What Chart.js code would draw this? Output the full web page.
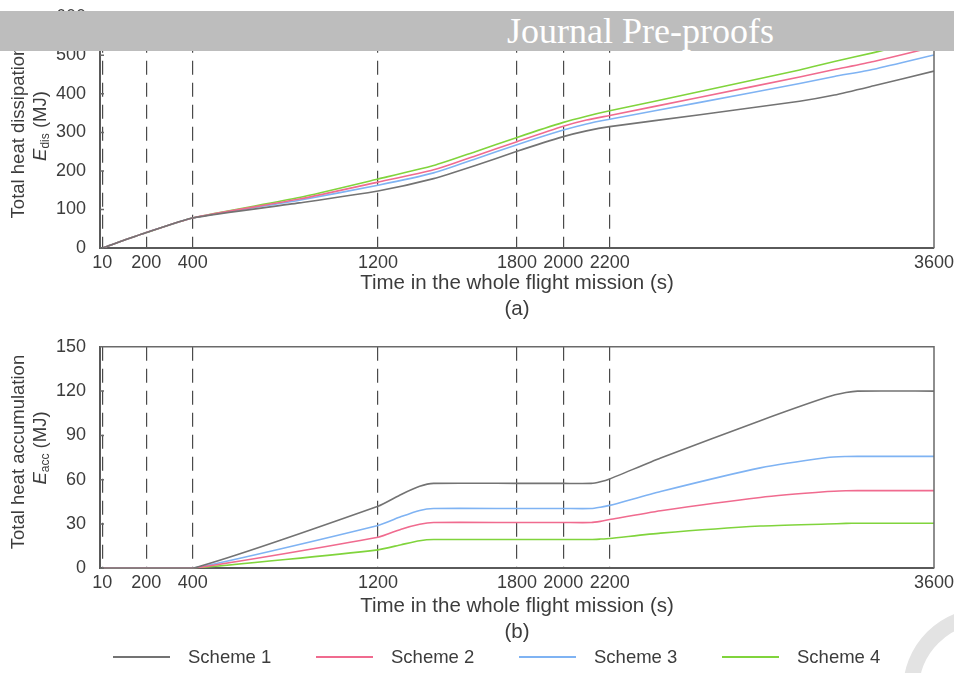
<!DOCTYPE html>
<html>
<head>
<meta charset="utf-8">
<script src="https://cdn.jsdelivr.net/npm/chart.js"></script>
<style>
  body { margin: 0; width: 954px; height: 673px; overflow: hidden; position: relative; background: #fff;
         font-family: 'Liberation Sans', Arial, sans-serif; color: #3c3c3c; }
  canvas { position: absolute; left: 0; }
  .ytitle { position: absolute; transform: translate(-50%, -50%) rotate(-90deg); white-space: nowrap; font-size: 18.5px; }
  .ytitle sub { font-size: 12px; vertical-align: -3px; }
  #banner { position: absolute; left: 0; top: 11px; width: 954px; height: 40px; background: #bdbdbd; z-index: 5; }
  #banner span { position: absolute; left: 507px; top: 0; line-height: 40px; font-family: 'Liberation Serif', 'DejaVu Serif', serif;
                 font-size: 36px; color: #fff; }
  .leg { position: absolute; top: 647px; height: 20px; font-size: 18.5px; line-height: 20px; white-space: nowrap; }
  .leg i { position: absolute; left: 0; top: 9px; width: 57px; height: 2px; }
  .leg span { position: absolute; left: 75px; top: 0; }
  #ring { position: absolute; left: 903px; top: 608px; width: 164px; height: 164px; box-sizing: border-box;
          border: 16px solid #e3e3e3; border-radius: 50%; }
</style>
</head>
<body>
<canvas id="dis" width="954" height="330" style="top:0"></canvas>
<canvas id="acc" width="954" height="320" style="top:330px"></canvas>

<div class="ytitle" style="left:18px; top:132px">Total heat dissipation</div>
<div class="ytitle" style="left:40px; top:126px"><i>E</i><sub>dis</sub> (MJ)</div>
<div class="ytitle" style="left:18px; top:452px">Total heat accumulation</div>
<div class="ytitle" style="left:40px; top:448px"><i>E</i><sub>acc</sub> (MJ)</div>

<div id="banner"><span>Journal Pre-proofs</span></div>
<div id="legend"></div>
<div id="ring"></div>

<script>
// ---- data ----
const schemeNames = ['Scheme 1', 'Scheme 2', 'Scheme 3', 'Scheme 4'];
const schemeColors = ['#737373', '#f06b8f', '#7fb3f3', '#80d43c'];
const xTicks = [10, 200, 400, 1200, 1800, 2000, 2200, 3600];

// (a) total heat dissipation, MJ
const disTime = [10, 200, 400, 860, 1200, 1440, 1620, 1800, 2000, 2100, 2200, 2590, 3020, 3170, 3340, 3600];
const disScheme1 = [0, 40, 78, 117, 148, 180, 214, 251, 289, 304, 315, 346, 381, 397, 421, 459];
const disScheme2 = [0, 40, 78, 127, 171, 203, 239, 276, 316, 332, 344, 391, 444, 463, 484, 522];
const disScheme3 = [0, 40, 78, 124, 163, 195, 231, 268, 306, 322, 334, 378, 427, 445, 464, 501];
const disScheme4 = [0, 40, 78, 131, 179, 214, 250, 287, 326, 342, 356, 406, 462, 484, 507, 545];

// (b) total heat accumulation, MJ
const accTime = [10, 200, 400, 1200, 1300, 1380, 1440, 1800, 2000, 2120, 2160, 2200, 2420, 2850, 3140, 3220, 3270, 3600];
const accScheme1 = [0, 0, 0, 42, 50, 55.5, 57.5, 57.5, 57.5, 57.5, 58.6, 60.5, 74.7, 100, 116, 119, 120, 120];
const accScheme2 = [0, 0, 0, 21, 26.5, 29.8, 31, 31, 31, 31, 31.8, 33, 39, 48, 52, 52.5, 52.6, 52.6];
const accScheme3 = [0, 0, 0, 29, 35, 39.2, 40.5, 40.5, 40.5, 40.5, 41.4, 42.6, 52, 68, 75, 75.7, 75.8, 75.8];
const accScheme4 = [0, 0, 0, 12.5, 16, 18.7, 19.5, 19.5, 19.5, 19.5, 19.8, 20.2, 23.8, 28.6, 30, 30.4, 30.5, 30.5];

Chart.defaults.font.family = "'Liberation Sans', Arial, sans-serif";
Chart.defaults.color = '#3c3c3c';

// box edges (top/right) and the little inward y ticks
const framePlugin = {
  id: 'frame',
  afterDatasetsDraw(chart) {
    const { ctx, chartArea: a, scales: { y } } = chart;
    ctx.save();
    ctx.strokeStyle = '#6a6a6a';
    ctx.lineWidth = 1.5;
    ctx.beginPath();
    ctx.moveTo(a.left, a.top);
    ctx.lineTo(a.right, a.top);
    ctx.lineTo(a.right, a.bottom);
    y.ticks.forEach((t) => {
      const py = y.getPixelForValue(t.value);
      ctx.moveTo(a.left, py);
      ctx.lineTo(a.left + 4, py);
    });
    ctx.stroke();
    ctx.restore();
  }
};

function series(times, values) {
  return times.map((t, i) => ({ x: t, y: values[i] }));
}

function makeChart(id, times, seriesList, yMax, yStep, tag, padTop, axisHeight, titleBottom) {
  return new Chart(document.getElementById(id), {
    type: 'line',
    data: {
      datasets: seriesList.map((vals, i) => ({
        label: schemeNames[i],
        data: series(times, vals),
        borderColor: schemeColors[i],
        borderWidth: 1.6,
        pointRadius: 0,
        tension: 0.2,
        borderJoinStyle: 'round',
        fill: false
      }))
    },
    options: {
      responsive: false,
      animation: false,
      devicePixelRatio: 1,
      layout: { padding: { top: padTop, right: 20, left: 0, bottom: 0 } },
      plugins: { legend: { display: false }, tooltip: { enabled: false } },
      scales: {
        x: {
          type: 'linear',
          min: 0,
          max: 3600,
          afterBuildTicks: (s) => { s.ticks = xTicks.map((v) => ({ value: v })); },
          afterFit: (s) => { s.height = axisHeight; s.paddingLeft = 0; s.paddingRight = 0; },
          ticks: { font: { size: 18 }, padding: 4, maxRotation: 0, autoSkip: false, callback: (v) => String(v) },
          grid: {
            drawTicks: false,
            lineWidth: 1.2,
            color: (c) => (c.tick && c.tick.value === 3600 ? 'rgba(0,0,0,0)' : '#4a4a4a')
          },
          border: { color: '#5a5a5a', width: 2, dash: [14, 8] },
          title: {
            display: true,
            text: ['Time in the whole flight mission (s)', tag],
            font: { size: 20.5, lineHeight: 1.27 },
            padding: { top: 2, bottom: titleBottom }
          }
        },
        y: {
          min: 0,
          max: yMax,
          afterFit: (s) => { s.width = 100; },
          ticks: { stepSize: yStep, font: { size: 18 }, padding: 6 },
          grid: { display: false },
          border: { color: '#5a5a5a', width: 2 }
        }
      }
    },
    plugins: [framePlugin]
  });
}

makeChart('dis', disTime, [disScheme1, disScheme2, disScheme3, disScheme4], 600, 100, '(a)', 16, 82, 8);
makeChart('acc', accTime, [accScheme1, accScheme2, accScheme3, accScheme4], 150, 30, '(b)', 7.3, 81.7, 5);

// legend
const legend = document.getElementById('legend');
schemeNames.forEach((name, i) => {
  const item = document.createElement('div');
  item.className = 'leg';
  item.style.left = (113 + i * 203) + 'px';
  item.innerHTML = '<i style="background:' + schemeColors[i] + '"></i><span>' + name + '</span>';
  legend.appendChild(item);
});
</script>
</body>
</html>
